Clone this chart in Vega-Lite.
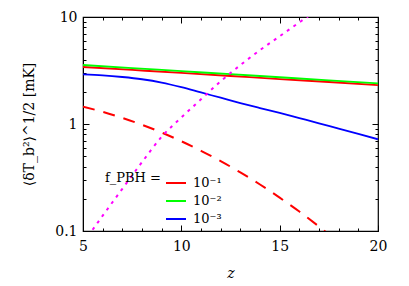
{
  "$schema": "https://vega.github.io/schema/vega-lite/v6.json",
  "width": 295,
  "height": 214,
  "autosize": {"type": "none"},
  "padding": {"left": 83, "top": 17, "right": 31, "bottom": 55},
  "background": "white",
  "config": {
    "view": {"stroke": "black", "strokeWidth": 1.2},
    "font": "DejaVu Serif",
    "axis": {
      "grid": false,
      "domainColor": "black",
      "tickColor": "black",
      "labelColor": "black",
      "titleColor": "black",
      "labelFont": "DejaVu Serif",
      "titleFont": "DejaVu Serif",
      "labelFontSize": 14,
      "titleFontSize": 14,
      "titleFontWeight": "normal"
    }
  },
  "datasets": {
    "solid": [
      {"z": 5, "v": 3.41, "f": "10⁻¹"},
      {"z": 7.5, "v": 3.20, "f": "10⁻¹"},
      {"z": 10, "v": 3.00, "f": "10⁻¹"},
      {"z": 12.5, "v": 2.81, "f": "10⁻¹"},
      {"z": 15, "v": 2.63, "f": "10⁻¹"},
      {"z": 17.5, "v": 2.47, "f": "10⁻¹"},
      {"z": 20, "v": 2.31, "f": "10⁻¹"},
      {"z": 5, "v": 3.56, "f": "10⁻²"},
      {"z": 7.5, "v": 3.33, "f": "10⁻²"},
      {"z": 10, "v": 3.12, "f": "10⁻²"},
      {"z": 12.5, "v": 2.92, "f": "10⁻²"},
      {"z": 15, "v": 2.735, "f": "10⁻²"},
      {"z": 17.5, "v": 2.56, "f": "10⁻²"},
      {"z": 20, "v": 2.40, "f": "10⁻²"},
      {"z": 5, "v": 2.91, "f": "10⁻³"},
      {"z": 6, "v": 2.85, "f": "10⁻³"},
      {"z": 7, "v": 2.75, "f": "10⁻³"},
      {"z": 8, "v": 2.62, "f": "10⁻³"},
      {"z": 9, "v": 2.44, "f": "10⁻³"},
      {"z": 10, "v": 2.21, "f": "10⁻³"},
      {"z": 11, "v": 1.97, "f": "10⁻³"},
      {"z": 12, "v": 1.76, "f": "10⁻³"},
      {"z": 13, "v": 1.57, "f": "10⁻³"},
      {"z": 14, "v": 1.41, "f": "10⁻³"},
      {"z": 15, "v": 1.27, "f": "10⁻³"},
      {"z": 16, "v": 1.135, "f": "10⁻³"},
      {"z": 17, "v": 1.014, "f": "10⁻³"},
      {"z": 18, "v": 0.904, "f": "10⁻³"},
      {"z": 19, "v": 0.807, "f": "10⁻³"},
      {"z": 20, "v": 0.72, "f": "10⁻³"}
    ],
    "dashed": [
      {"z": 5, "v": 1.45},
      {"z": 6, "v": 1.30},
      {"z": 7, "v": 1.14},
      {"z": 8, "v": 0.983},
      {"z": 9, "v": 0.832},
      {"z": 10, "v": 0.690},
      {"z": 11, "v": 0.562},
      {"z": 12, "v": 0.450},
      {"z": 13, "v": 0.353},
      {"z": 14, "v": 0.272},
      {"z": 15, "v": 0.205},
      {"z": 16, "v": 0.152},
      {"z": 17, "v": 0.110},
      {"z": 17.5, "v": 0.093},
      {"z": 18, "v": 0.078}
    ],
    "dotted": [
      {"z": 5, "v": 0.078},
      {"z": 5.44, "v": 0.1},
      {"z": 6, "v": 0.139},
      {"z": 7, "v": 0.248},
      {"z": 8, "v": 0.44},
      {"z": 9, "v": 0.76},
      {"z": 10, "v": 1.15},
      {"z": 11, "v": 1.70},
      {"z": 12, "v": 2.51},
      {"z": 13, "v": 3.55},
      {"z": 14, "v": 4.90},
      {"z": 15, "v": 6.61},
      {"z": 16, "v": 8.91},
      {"z": 16.4, "v": 10},
      {"z": 17, "v": 11.7}
    ]
  },
  "layer": [
    {
      "data": {"name": "solid"},
      "mark": {"type": "line", "strokeWidth": 1.8, "clip": true, "interpolate": "monotone"},
      "encoding": {
        "x": {
          "field": "z", "type": "quantitative",
          "scale": {"domain": [5, 20], "nice": false, "zero": false},
          "axis": {"orient": "bottom", "values": [5, 10, 15, 20], "tickSize": -6, "labelPadding": 14, "title": "z", "titleFontStyle": "italic", "titlePadding": 13, "labelFlush": false}
        },
        "y": {
          "field": "v", "type": "quantitative",
          "scale": {"type": "log", "domain": [0.1, 10], "nice": false},
          "axis": {"orient": "left", "values": [0.1, 1, 10], "format": "~g", "tickSize": -6, "labelPadding": 12, "title": "⟨δT_b²⟩^1/2 [mK]", "titlePadding": 18, "labelFlush": false}
        },
        "color": {
          "field": "f", "type": "nominal",
          "scale": {"domain": ["10⁻¹", "10⁻²", "10⁻³"], "range": ["#ff0000", "#00ff00", "#0000ff"]},
          "legend": {
            "orient": "none", "legendX": 22, "legendY": 155,
            "title": "f_PBH =", "titleOrient": "left", "titleAnchor": "start", "titleBaseline": "top", "titlePadding": 4,
            "titleFont": "DejaVu Serif", "titleFontSize": 13, "titleFontWeight": "normal", "titleColor": "black",
            "labelFont": "DejaVu Serif", "labelFontSize": 13, "labelColor": "black",
            "symbolType": "stroke", "symbolSize": 400, "symbolStrokeWidth": 2, "rowPadding": 0, "labelOffset": 6
          }
        }
      }
    },
    {
      "data": {"name": "dashed"},
      "mark": {"type": "line", "color": "#ff0000", "strokeWidth": 2, "strokeDash": [12, 9], "clip": true, "interpolate": "monotone"},
      "encoding": {
        "x": {"field": "z", "type": "quantitative", "axis": {"orient": "top", "values": [5, 10, 15, 20], "tickSize": -6, "labels": false, "title": null, "domain": false}},
        "y": {"field": "v", "type": "quantitative", "axis": {"orient": "right", "values": [0.1, 1, 10], "tickSize": -6, "labels": false, "title": null, "domain": false}}
      }
    },
    {
      "data": {"name": "dotted"},
      "mark": {"type": "line", "color": "#ff00ff", "strokeWidth": 2, "strokeDash": [3, 5], "clip": true, "interpolate": "monotone"},
      "encoding": {
        "x": {"field": "z", "type": "quantitative", "axis": {"orient": "bottom", "values": [6, 7, 8, 9, 11, 12, 13, 14, 16, 17, 18, 19], "tickSize": -3, "labels": false, "title": null, "domain": false}},
        "y": {"field": "v", "type": "quantitative", "axis": {"orient": "left", "values": [0.2, 0.3, 0.4, 0.5, 0.6, 0.7, 0.8, 0.9, 2, 3, 4, 5, 6, 7, 8, 9], "tickSize": -3, "labels": false, "title": null, "domain": false}}
      }
    },
    {
      "data": {"name": "dashed"},
      "mark": {"type": "line", "opacity": 0, "clip": true},
      "encoding": {
        "x": {"field": "z", "type": "quantitative", "axis": {"orient": "top", "values": [6, 7, 8, 9, 11, 12, 13, 14, 16, 17, 18, 19], "tickSize": -3, "labels": false, "title": null, "domain": false}},
        "y": {"field": "v", "type": "quantitative", "axis": {"orient": "right", "values": [0.2, 0.3, 0.4, 0.5, 0.6, 0.7, 0.8, 0.9, 2, 3, 4, 5, 6, 7, 8, 9], "tickSize": -3, "labels": false, "title": null, "domain": false}}
      }
    }
  ],
  "resolve": {"axis": {"x": "independent", "y": "independent"}}
}
